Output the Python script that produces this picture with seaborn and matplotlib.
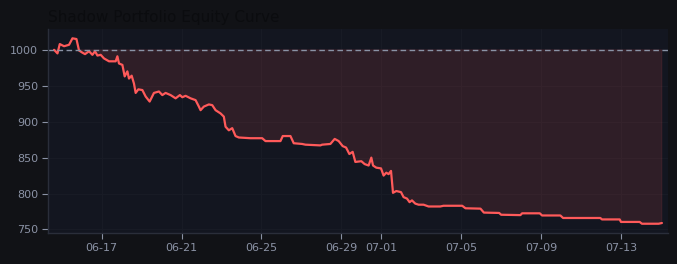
import numpy as np
import pandas as pd
import matplotlib
matplotlib.use("Agg")
import matplotlib.pyplot as plt
import matplotlib.dates as mdates
import seaborn as sns

day_offset = [
    -2.385, -2.215, -2.1, -1.885, -1.635, -1.465, -1.265, -1.135, -0.965, -0.835,
    -0.635, -0.465, -0.335, -0.215, -0.05, 0.115, 0.365, 0.7, 0.785, 0.865,
    1.035, 1.15, 1.285, 1.365, 1.5, 1.615, 1.7, 1.835, 2.035, 2.2,
    2.4, 2.615, 2.865, 3.035, 3.2, 3.45, 3.7, 3.915, 4.035, 4.2,
    4.45, 4.7, 4.865, 4.95, 5.115, 5.365, 5.535, 5.7, 5.95, 6.115,
    6.2, 6.365, 6.535, 6.7, 6.865, 7.45, 8.035, 8.2, 8.95, 9.065,
    9.45, 9.615, 10.035, 10.2, 10.95, 11.035, 11.45, 11.665, 11.865, 12.065,
    12.235, 12.4, 12.565, 12.7, 13.0, 13.165, 13.365, 13.5, 13.585, 13.75,
    13.985, 14.115, 14.25, 14.365, 14.485, 14.585, 14.75, 14.985, 15.115, 15.285,
    15.415, 15.535, 15.7, 15.865, 16.115, 16.365, 16.95, 17.115, 18.05, 18.215,
    18.965, 19.135, 19.9, 20.0, 20.965, 21.05, 21.935, 22.05, 22.965, 23.1,
    24.965, 25.05, 25.935, 26.0, 26.935, 27.05, 27.885, 28.05,
]
equity = [
    1000, 995, 1008, 1005, 1007, 1016, 1015, 999, 996, 994,
    998, 993, 998, 992, 993, 988, 984, 984, 991, 981,
    979, 963, 970, 960, 964, 953, 940, 945, 944, 935,
    928, 940, 942, 937, 940, 937, 932.5, 937, 934, 936,
    932.5, 930, 921, 916, 921, 924, 923, 916, 911.5, 907,
    893, 888, 891, 880, 878, 877, 877, 873, 873, 880,
    880, 870, 869, 868, 867, 868, 869, 876, 873, 866,
    864, 855, 858, 844, 845, 841, 839, 850, 839, 836,
    835, 825, 829, 827, 831.5, 801, 803.5, 802, 795, 793,
    788, 790.5, 786, 784.5, 784.5, 782, 782, 783, 783, 779.5,
    779, 773.5, 773, 770.5, 770, 772.5, 772.5, 769.5, 769.5, 766,
    766, 764, 764, 760.5, 760.5, 758, 758, 759,
]
start_capital = 1000
title = "Shadow Portfolio Equity Curve"

bg = "#111216"
panel = "#131620"
red = "#ff5a5a"
tick_col = "#8b92a5"

sns.set_theme(style="dark", rc={
    "figure.facecolor": bg,
    "axes.facecolor": panel,
    "axes.edgecolor": "#2a2e3a",
    "axes.grid": True,
    "grid.color": "#181b25",
    "grid.linewidth": 0.8,
    "xtick.color": tick_col,
    "ytick.color": tick_col,
    "xtick.bottom": True,
    "ytick.left": True,
})
plt.rcParams["font.family"] = ["DejaVu Sans"]

df = pd.DataFrame({
    "time": pd.Timestamp("2025-06-17") + pd.to_timedelta(day_offset, unit="D"),
    "equity": equity,
})

fig = plt.figure(figsize=(6.77, 2.64), dpi=100)
ax = fig.add_axes([0.0709, 0.1174, 0.9158, 0.7726])

eq = np.array(equity, dtype=float)
ax.fill_between(df["time"], eq, start_capital, where=eq < start_capital,
                color=red, alpha=0.12, linewidth=0.6, interpolate=True)
sns.lineplot(data=df, x="time", y="equity", ax=ax, color=red, linewidth=1.6)
ax.axhline(start_capital, color="#8a93a6", linestyle=(0, (4, 2.5)), linewidth=1)

ax.margins(x=0.01, y=0.05)
ax.xaxis.set_major_locator(mdates.AutoDateLocator())
ax.xaxis.set_major_formatter(mdates.DateFormatter("%m-%d"))
ax.set_yticks([750, 800, 850, 900, 950, 1000])
ax.tick_params(labelsize=8, length=4, width=0.8, colors=tick_col, pad=3)
ax.set_xlabel("")
ax.set_ylabel("")
for side in ["top", "right"]:
    ax.spines[side].set_visible(False)
for side in ["left", "bottom"]:
    ax.spines[side].set_color("#2a2e3a")
    ax.spines[side].set_linewidth(1)

ax.set_title(title, loc="left", fontsize=11, color="#0b0c0f", pad=5)

fig.savefig("out.png", dpi=100, facecolor=bg)
